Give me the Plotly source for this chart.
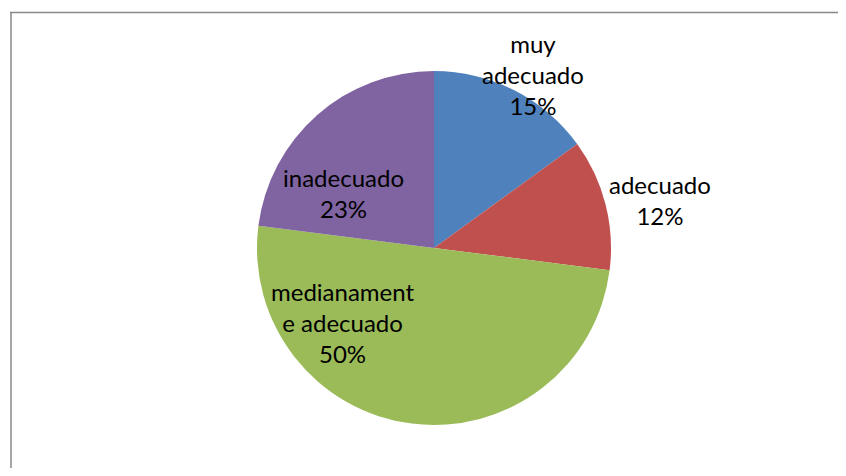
import plotly.graph_objects as go

labels = ["muy adecuado", "adecuado", "medianamente adecuado", "inadecuado"]
values = [15, 12, 50, 23]
colors = ["#4F81BD", "#C0504D", "#9BBB59", "#8064A2"]
label_lines = [["muy", "adecuado"], ["adecuado"], ["medianament", "e adecuado"], ["inadecuado"]]
# label centre positions (pixels in the reference 846x476 frame)
label_px = [(533, 75), (660, 200), (342, 322), (343, 193)]

OFF = 8  # page body margin
W, H = 846 - 2 * OFF, 476 - 2 * OFF
total = sum(values)


def fx(px):
    return (px - OFF) / W


def fy(py):
    return 1 - (py - OFF) / H


fig = go.Figure(go.Pie(
    labels=labels,
    values=values,
    sort=False,
    direction="clockwise",
    rotation=0,
    marker=dict(colors=colors, line=dict(width=0)),
    textinfo="none",
    hoverinfo="label+percent",
    showlegend=False,
    domain=dict(x=[fx(257), fx(611)], y=[fy(425), fy(71)]),
))

for lines, v, (px, py) in zip(label_lines, values, label_px):
    txt = "<br>".join(lines + [f"{round(100 * v / total)}%"])
    fig.add_annotation(
        x=fx(px), y=fy(py), xref="paper", yref="paper",
        text=txt, showarrow=False, xanchor="center", yanchor="middle",
        font=dict(family="Lato, sans-serif", size=24, color="#000000"),
        align="center",
    )

# chart-area border (only top and left edges are visible in the crop)
fig.add_shape(type="line", xref="paper", yref="paper",
              x0=fx(10), x1=1, y0=fy(12.5), y1=fy(12.5),
              line=dict(color="#888888", width=1.5))
fig.add_shape(type="line", xref="paper", yref="paper",
              x0=fx(11), x1=fx(11), y0=0, y1=fy(12),
              line=dict(color="#888888", width=1.5))

fig.update_layout(
    width=W, height=H,
    margin=dict(l=0, r=0, t=0, b=0),
    paper_bgcolor="white", plot_bgcolor="white",
)

fig.write_html("out.html", config={"displayModeBar": False})
